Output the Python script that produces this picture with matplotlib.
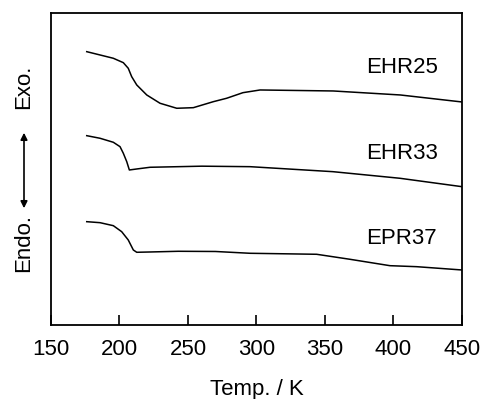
import matplotlib
matplotlib.use("Agg")
import matplotlib.pyplot as plt

plt.rcParams['font.family'] = ['Liberation Sans', 'DejaVu Sans']

ehr25_T = [176.1, 185.8, 195.5, 202.8, 206.4, 208.9, 212.6, 219.9, 229.6, 241.8, 253.9, 268.5, 278.2, 290.1, 302.6, 356, 405, 450]
ehr25_y = [273.3, 270, 266.7, 262.3, 256.7, 248.3, 240, 230, 221.7, 216.7, 217.3, 223.3, 226.7, 232.3, 235, 234, 230, 223]

ehr33_T = [176.1, 185.8, 195.5, 200.4, 202.8, 205.3, 207.2, 212.6, 222.3, 242.9, 260, 295.3, 355.8, 404.7, 450]
ehr33_y = [189.3, 186.7, 182.7, 178.3, 171.7, 163.3, 155, 156, 157.7, 158.3, 158.8, 158.3, 153.3, 146.7, 138.3]

epr37_T = [176.1, 185.8, 195.5, 201.6, 206.4, 210.1, 212.6, 222.3, 242.9, 270, 295.3, 320, 343.9, 368.2, 397.4, 416.9, 450]
epr37_y = [103.3, 102.3, 99.3, 93.3, 85, 75, 72.7, 73, 73.7, 73.5, 71.7, 71.2, 70.7, 65.7, 59.3, 58.3, 55]

labels = ["EHR25", "EHR33", "EPR37"]
label_y = [257, 171, 86]
xticks = [150, 200, 250, 300, 350, 400, 450]

fig = plt.figure(figsize=(4.81, 3.99), dpi=100)
ax = fig.add_axes([0.106, 0.1855, 0.8545, 0.782])
for T, y in [(ehr25_T, ehr25_y), (ehr33_T, ehr33_y), (epr37_T, epr37_y)]:
    ax.plot(T, y, color='black', lw=1.1, solid_joinstyle='round')
for lab, ly in zip(labels, label_y):
    ax.text(380, ly, lab, fontsize=16, va='center', ha='left')
ax.set_xlim(150, 450)
ax.set_ylim(0, 312)
ax.set_xticks(xticks)
ax.set_xticklabels([str(t) for t in xticks], fontsize=16)
ax.tick_params(axis='x', direction='in', length=7, width=1.2, pad=10)
ax.set_yticks([])
for s in ax.spines.values():
    s.set_linewidth(1.3)
ax.set_xlabel("Temp. / K", fontsize=16, labelpad=14)

fig.text(24 / 481, 1 - 87 / 399, "Exo.", rotation=90, fontsize=16, ha='center', va='center')
fig.text(24 / 481, 1 - 243 / 399, "Endo.", rotation=90, fontsize=16, ha='center', va='center')
fig.patches.append(matplotlib.patches.FancyArrowPatch(
    (24 / 481, 1 - 130 / 399), (24 / 481, 1 - 211 / 399), transform=fig.transFigure,
    arrowstyle='<|-|>', mutation_scale=10, color='black', lw=1.2))

fig.savefig("out.png", dpi=100)
